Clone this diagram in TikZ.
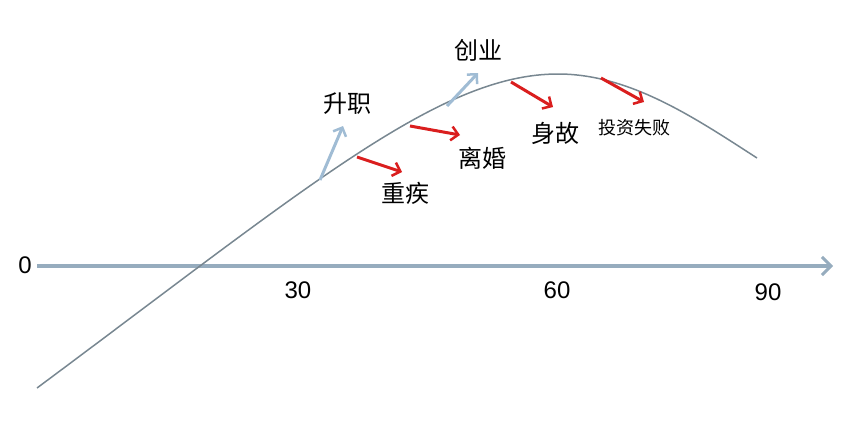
\documentclass[tikz,border=0pt]{standalone}
\usepackage{fontspec}
\setmainfont{Liberation Sans}
\newfontfamily\cjk{Noto Sans CJK SC}
\usetikzlibrary{arrows.meta}
\definecolor{axisblue}{RGB}{150,172,190}
\definecolor{upblue}{RGB}{160,188,212}
\definecolor{downred}{RGB}{218,30,30}
\definecolor{curvegray}{RGB}{120,135,145}
\tikzset{
  axisline/.style={draw=axisblue,line width=4pt,-{Straight Barb[length=9pt,width=18pt,line width=3pt]}},
  lifecurve/.style={draw=curvegray,line width=1.5pt},
  uparrow/.style={draw=upblue,line width=3pt,-{Straight Barb[length=7pt,width=14pt,line width=2.5pt]}},
  downarrow/.style={draw=downred,line width=3pt,-{Straight Barb[length=7pt,width=14pt,line width=2.5pt]}},
  numlabel/.style={font=\fontsize{24}{26}\selectfont,inner sep=0pt},
  evlabel/.style={font=\cjk\fontsize{24}{26}\selectfont,inner sep=0pt},
  smlabel/.style={font=\cjk\fontsize{18}{20}\selectfont,inner sep=0pt}
}
\begin{document}
\begin{tikzpicture}[x=1pt,y=-1pt]
\useasboundingbox (0,0) rectangle (855,431);
% axis
\coordinate (axs) at (37,266);
\coordinate (axe) at (833,266);
\draw[axisline] (axs) -- (axe);
\node[numlabel] (n0) at (25,265) {0};
\node[numlabel] (n30) at (298,290) {30};
\node[numlabel] (n60) at (557,290) {60};
\node[numlabel] (n90) at (768,292) {90};
% curve
\coordinate (cs) at (37,388);
\coordinate (cp) at (558,74);
\coordinate (ce) at (757,158);
\draw[lifecurve] (cs) .. controls (310,185) and (440,74) .. (cp)
  .. controls (630,74) and (695,118) .. (ce);
% arrow starts on the curve
\coordinate (pA) at (320,180);
\coordinate (pB) at (357,157);
\coordinate (pC) at (410,126);
\coordinate (pD) at (447,106);
\coordinate (pE) at (511,82);
\coordinate (pF) at (601,78);
% arrow ends
\coordinate (eA) at (343,126);
\coordinate (eB) at (402,172);
\coordinate (eC) at (460,135);
\coordinate (eD) at (478,73);
\coordinate (eE) at (553,107);
\coordinate (eF) at (644,102);
\draw[uparrow] (pA) -- (eA);
\draw[uparrow] (pD) -- (eD);
\draw[downarrow] (pB) -- (eB);
\draw[downarrow] (pC) -- (eC);
\draw[downarrow] (pE) -- (eE);
\draw[downarrow] (pF) -- (eF);
% labels
\node[evlabel] (lA) at (347,104) {升职};
\node[evlabel] (lD) at (478,50) {创业};
\node[evlabel] (lB) at (405,193) {重疾};
\node[evlabel] (lC) at (482,158) {离婚};
\node[evlabel] (lE) at (555,133) {身故};
\node[smlabel] (lF) at (634,128) {投资失败};
\end{tikzpicture}
\end{document}
